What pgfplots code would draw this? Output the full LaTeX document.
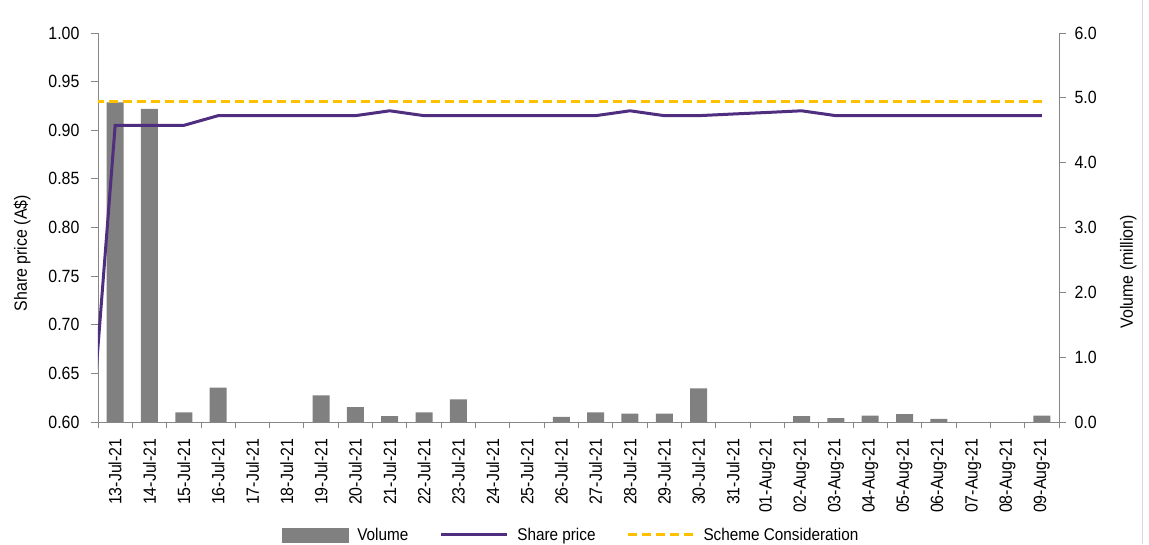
\documentclass[border=0pt]{standalone}
\usepackage{pgfplots}
\usepackage{pgfplotstable}
\pgfplotsset{compat=1.18}
\usepackage{fontspec}
\setmainfont{Liberation Sans}[FakeStretch=0.9]

\definecolor{volgray}{RGB}{128,128,128}
\definecolor{sharepurple}{RGB}{79,45,127}
\definecolor{schemegold}{RGB}{255,192,0}
\definecolor{axisgray}{RGB}{134,134,134}
\definecolor{framegray}{RGB}{217,217,217}

% Daily traded volume (million shares), day index 0 = 13-Jul-21
\pgfplotstableread{
idx vol
0 4.93
1 4.83
2 0.15
3 0.53
4 0
5 0
6 0.41
7 0.23
8 0.09
9 0.15
10 0.35
11 0
12 0
13 0.08
14 0.15
15 0.13
16 0.13
17 0.52
18 0
19 0
20 0.09
21 0.06
22 0.10
23 0.12
24 0.05
25 0
26 0
27 0.10
}\voltable

% Closing share price (A$); the point at -1 is the prior close
\pgfplotstableread{
idx price
-1 0.45
0 0.905
1 0.905
2 0.905
3 0.915
4 0.915
5 0.915
6 0.915
7 0.915
8 0.920
9 0.915
10 0.915
11 0.915
12 0.915
13 0.915
14 0.915
15 0.920
16 0.915
17 0.915
18 0.9167
19 0.9183
20 0.920
21 0.915
22 0.915
23 0.915
24 0.915
25 0.915
26 0.915
27 0.915
}\pricetable

\pgfplotsset{
  common/.style={
    scale only axis, width=961pt, height=389pt,
    at={(0,0)}, anchor=south west,
    xmin=-0.5, xmax=27.5,
    axis line style={axisgray, line width=0.9pt, -},
    tick style={axisgray, line width=0.9pt},
    major tick length=7pt, minor tick length=6pt,
    tick align=outside,
    /pgf/number format/assume math mode=true,
  },
  barlegend/.style={legend image code/.code={\fill[volgray] (0pt,-7pt) rectangle (66pt,7pt);}},
  longline/.style={legend image code/.code={\draw[##1] (0pt,0pt) -- (66pt,0pt);}},
  dashline/.style={legend image code/.code={\draw[##1] (0pt,0pt) -- (65pt,0pt);}},
}

\begin{document}
\begin{tikzpicture}[font=\fontsize{17.7}{21}\selectfont]
% Volume bars on the right-hand axis
\begin{axis}[common,
  ymin=0, ymax=6,
  axis x line*=bottom, axis y line*=right,
  xtick={0,...,27},
  xticklabels={13-Jul-21,14-Jul-21,15-Jul-21,16-Jul-21,17-Jul-21,18-Jul-21,19-Jul-21,20-Jul-21,21-Jul-21,22-Jul-21,23-Jul-21,24-Jul-21,25-Jul-21,26-Jul-21,27-Jul-21,28-Jul-21,29-Jul-21,30-Jul-21,31-Jul-21,01-Aug-21,02-Aug-21,03-Aug-21,04-Aug-21,05-Aug-21,06-Aug-21,07-Aug-21,08-Aug-21,09-Aug-21},
  minor xtick={-0.5,0.5,...,27.5},
  major x tick style={draw=none},
  xticklabel style={rotate=90, anchor=east},
  xticklabel shift=6pt,
  ytick={0,1,2,3,4,5,6},
  yticklabel style={/pgf/number format/.cd, fixed, fixed zerofill, precision=1},
  yticklabel shift=5pt,
  ylabel={Volume (million)},
  ylabel style={at={(axis description cs:1.072,0.386)}, anchor=center, rotate=0},
]
\addplot[ybar, bar width=17pt, fill=volgray, draw=none] table[x=idx, y=vol] {\voltable};
\end{axis}
% Share price and scheme consideration on the left-hand axis
\begin{axis}[common,
  ymin=0.60, ymax=1.00,
  axis x line=none, axis y line*=left,
  ytick={0.60,0.65,0.70,0.75,0.80,0.85,0.90,0.95,1.00},
  yticklabel style={/pgf/number format/.cd, fixed, fixed zerofill, precision=2},
  yticklabel shift=8pt,
  ylabel={Share price (A\$)},
  ylabel style={at={(axis description cs:-0.079,0.434)}, anchor=center},
  legend columns=-1,
  legend style={draw=none, fill=none,
    at={(axis description cs:0.188,-0.290)}, anchor=west,
    font=\fontsize{17}{20}\selectfont,
    nodes={inner sep=0pt},
    /tikz/every odd column/.append style={column sep=9pt},
    /tikz/every even column/.append style={column sep=31pt}},
]
\addlegendimage{barlegend}
\addlegendentry{Volume}
\addplot[sharepurple, line width=3pt, longline]
  table[x=idx, y=price] {\pricetable};
\addlegendentry{Share price}
\addplot[schemegold, line width=3pt, dash pattern=on 9pt off 5pt, dashline]
  coordinates {(-1,0.93) (27,0.93)};
\addlegendentry{Scheme Consideration}
\end{axis}
\draw[framegray, line width=1pt] (1044pt,-122pt) -- (1044pt,422pt);
\pgfresetboundingbox
\useasboundingbox (-98pt,-122pt) rectangle (1051pt,422pt);
\end{tikzpicture}
\end{document}
